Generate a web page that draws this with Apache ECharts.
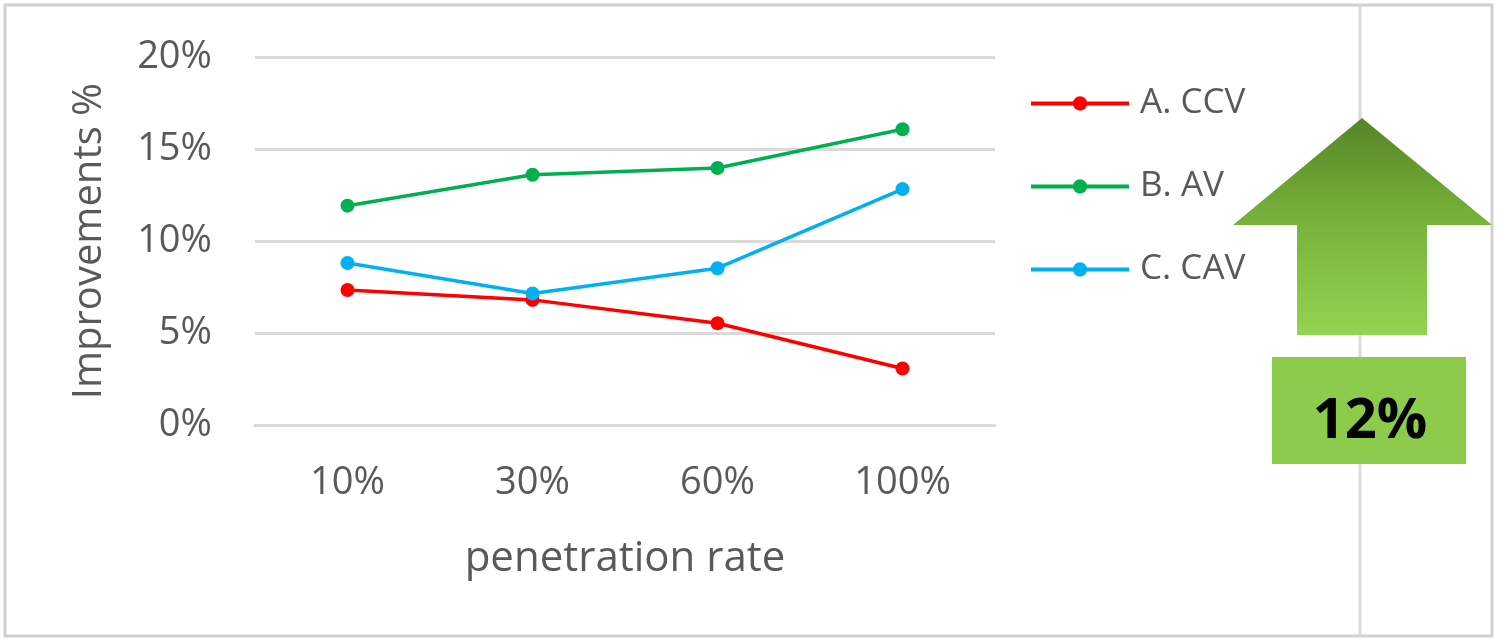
<!DOCTYPE html>
<html><head><meta charset="utf-8">
<script src="https://cdn.jsdelivr.net/npm/echarts@6/dist/echarts.min.js"></script>
<style>html,body{margin:0;padding:0;background:#fff}#c{width:1498px;height:642px}</style>
</head><body><div id="c"></div>
<script>
const categories = ['10%', '30%', '60%', '100%'];
const seriesNames = ['A. CCV', 'B. AV', 'C. CAV'];
const ccv = [7.34, 6.8, 5.53, 3.07];
const av = [11.92, 13.6, 13.97, 16.07];
const cav = [8.8, 7.15, 8.52, 12.82];
const yTicks = [0, 5, 10, 15, 20];
const badgeText = '12%';

const font = 'Open Sans';
const txt = '#595959';
const chart = echarts.init(document.getElementById('c'), null, {renderer: 'canvas'});
function mk(name, data, color) {
  return {name, type: 'line', data, symbol: 'circle', symbolSize: 14,
    lineStyle: {color, width: 3.5}, itemStyle: {color}};
}
chart.setOption({
  animation: false,
  grid: {left: 255, right: 503, top: 57, bottom: 217},
  legend: {orient: 'vertical', left: 1024, top: 81, itemWidth: 98, itemHeight: 18, itemGap: 48,
    lineStyle: {width: 4},
    textStyle: {fontFamily: font, fontSize: 35, color: txt, padding: [0, 0, 0, 6]},
    data: seriesNames},
  xAxis: {type: 'category', data: categories, boundaryGap: true,
    axisLine: {lineStyle: {color: '#d9d9d9', width: 3}}, axisTick: {show: false},
    axisLabel: {fontFamily: font, fontSize: 38, color: txt, margin: 39},
    name: 'penetration rate', nameLocation: 'middle', nameGap: 113,
    nameTextStyle: {fontFamily: font, fontSize: 42, color: txt}},
  yAxis: {type: 'value', min: 0, max: 20, interval: 5,
    axisLine: {show: false}, axisTick: {show: false},
    splitLine: {lineStyle: {color: '#d9d9d9', width: 3}},
    axisLabel: {fontFamily: font, fontSize: 38, color: txt, margin: 43,
      formatter: v => yTicks.includes(v) ? v + '%' : ''},
    name: 'Improvements %', nameLocation: 'middle', nameGap: 145, nameRotate: 90,
    nameTextStyle: {fontFamily: font, fontSize: 40, color: txt}},
  series: [mk(seriesNames[0], ccv, '#ff0000'), mk(seriesNames[1], av, '#00b050'), mk(seriesNames[2], cav, '#00b0f0')],
  graphic: [
    {type: 'rect', shape: {x: 5, y: 5, width: 1487, height: 631}, style: {fill: 'none', stroke: '#d0d0d0', lineWidth: 3}, z: 0},
    {type: 'line', shape: {x1: 1360, y1: 5, x2: 1360, y2: 636}, style: {stroke: '#d9d9d9', lineWidth: 3}, z: 0},
    {type: 'polygon', shape: {points: [[1362, 118], [1492, 225], [1427, 225], [1427, 335], [1297, 335], [1297, 225], [1233, 225]]},
      style: {fill: new echarts.graphic.LinearGradient(0, 0, 0, 1, [{offset: 0, color: '#568527'}, {offset: 0.45, color: '#76b03a'}, {offset: 1, color: '#93d451'}])}, z: 5},
    {type: 'rect', shape: {x: 1272, y: 357, width: 194, height: 107}, style: {fill: '#8dcb4c'}, z: 5},
    {type: 'text', x: 1370, y: 422, style: {text: badgeText, fontFamily: font, fontWeight: 'bold', fontSize: 56, fill: '#000', align: 'center', verticalAlign: 'middle'}, z: 6}
  ]
});
</script></body></html>
